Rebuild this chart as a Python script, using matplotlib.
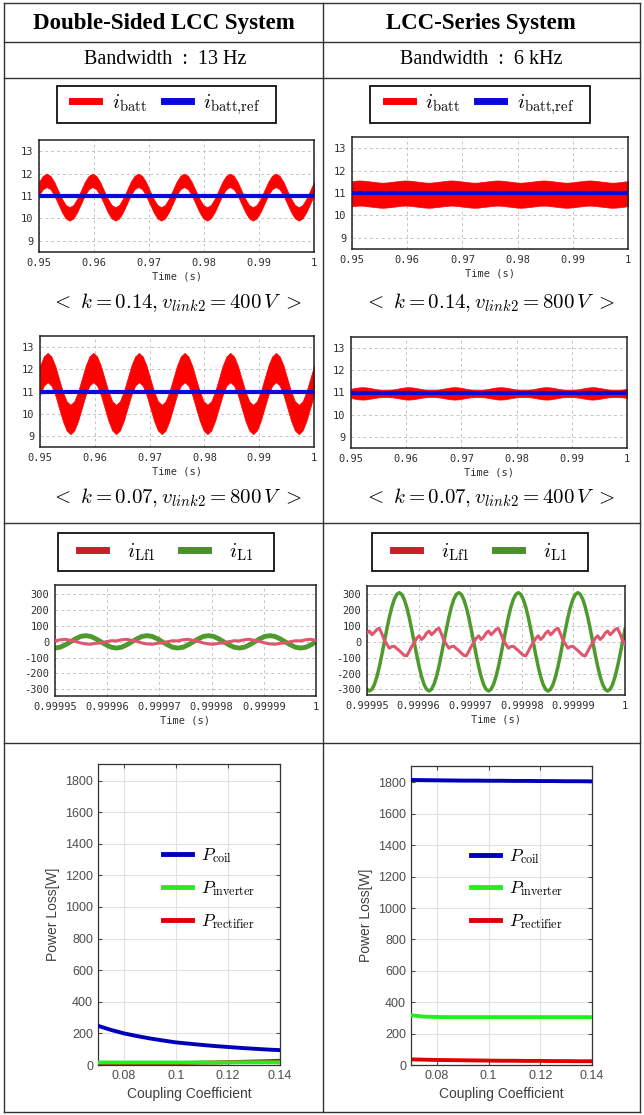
import numpy as np
import matplotlib
matplotlib.use('Agg')
import matplotlib.pyplot as plt
from matplotlib.lines import Line2D
from matplotlib.patches import Rectangle

plt.rcParams['mathtext.fontset'] = 'cm'
plt.rcParams['axes.unicode_minus'] = False

W, H = 644, 1115

#---    Battery current (centre of the rippled band, 0.95 s .. 1 s)
batt_l1_mid = [
    11.33, 11.60,
    11.70, 11.60, 11.33, 10.95, 10.58, 10.30, 10.20, 10.30, 10.58, 10.95, 11.33, 11.60,
    11.70, 11.60, 11.33, 10.95, 10.58, 10.30, 10.20, 10.30, 10.58, 10.95, 11.33, 11.60,
    11.70, 11.60, 11.33, 10.95, 10.58, 10.30, 10.20, 10.30, 10.58, 10.95, 11.33, 11.60,
    11.70, 11.60, 11.33, 10.95, 10.58, 10.30, 10.20, 10.30, 10.58, 10.95, 11.33, 11.60,
    11.70, 11.60, 11.33, 10.95, 10.58, 10.30, 10.20, 10.30, 10.58, 10.95, 11.33, 11.60,
    11.70, 11.60, 11.33, 10.95, 10.58, 10.30, 10.20, 10.30, 10.58, 10.95, 11.33]
batt_l1_ripple = 0.30

batt_l2_mid = [
    11.50, 11.92,
    12.08, 11.92, 11.50, 10.91, 10.33, 9.90, 9.74, 9.90, 10.33, 10.91, 11.50, 11.92,
    12.08, 11.92, 11.50, 10.91, 10.33, 9.90, 9.74, 9.90, 10.33, 10.91, 11.50, 11.92,
    12.08, 11.92, 11.50, 10.91, 10.33, 9.90, 9.74, 9.90, 10.33, 10.91, 11.50, 11.92,
    12.08, 11.92, 11.50, 10.91, 10.33, 9.90, 9.74, 9.90, 10.33, 10.91, 11.50, 11.92,
    12.08, 11.92, 11.50, 10.91, 10.33, 9.90, 9.74, 9.90, 10.33, 10.91, 11.50, 11.92,
    12.08, 11.92, 11.50, 10.91, 10.33, 9.90, 9.74, 9.90, 10.33, 10.91, 11.50]
batt_l2_ripple = 0.66

batt_r1_mid = [
    10.97, 10.99,
    11.00, 10.99, 10.97, 10.95, 10.93, 10.91, 10.90, 10.91, 10.93, 10.95, 10.97, 10.99,
    11.00, 10.99, 10.97, 10.95, 10.93, 10.91, 10.90, 10.91, 10.93, 10.95, 10.97, 10.99,
    11.00, 10.99, 10.97, 10.95, 10.93, 10.91, 10.90, 10.91, 10.93, 10.95, 10.97, 10.99,
    11.00, 10.99, 10.97, 10.95, 10.93, 10.91, 10.90, 10.91, 10.93, 10.95, 10.97, 10.99,
    11.00, 10.99, 10.97, 10.95, 10.93, 10.91, 10.90, 10.91, 10.93, 10.95, 10.97, 10.99,
    11.00, 10.99, 10.97, 10.95, 10.93, 10.91, 10.90, 10.91, 10.93, 10.95, 10.97]
batt_r1_ripple = 0.56

batt_r2_mid = 10.96
batt_r2_ripple = [
    0.21, 0.24, 0.27,
    0.28, 0.27, 0.24, 0.21, 0.18, 0.17, 0.17, 0.17, 0.18, 0.21, 0.24, 0.27,
    0.28, 0.27, 0.24, 0.21, 0.18, 0.17, 0.17, 0.17, 0.18, 0.21, 0.24, 0.27,
    0.28, 0.27, 0.24, 0.21, 0.18, 0.17, 0.17, 0.17, 0.18, 0.21, 0.24, 0.27,
    0.28, 0.27, 0.24, 0.21, 0.18, 0.17, 0.17, 0.17, 0.18, 0.21, 0.24, 0.27,
    0.28, 0.27, 0.24, 0.21, 0.18, 0.17, 0.17, 0.17, 0.18, 0.21, 0.24, 0.27,
    0.28, 0.27, 0.24, 0.21, 0.18, 0.17, 0.17, 0.17, 0.18, 0.21]

batt_ref = 11.0

#---    Inductor currents (0.99995 s .. 1 s)
il1_left = [
    -40, -35, -20, -1, 18, 33, 38, 33, 18, -1, -20, -35,
    -40, -35, -20, -1, 18, 33, 38, 33, 18, -1, -20, -35,
    -40, -35, -20, -1, 18, 33, 38, 33, 18, -1, -20, -35,
    -40, -35, -20, -1, 18, 33, 38, 33, 18, -1, -20, -35,
    -40, -35, -20, -1]
ilf1_left = [
    5, 12, 15, 8, 2, -8, -14, -16, -10, -8, 0, 6,
    5, 12, 15, 8, 2, -8, -14, -16, -10, -8, 0, 6,
    5, 12, 15, 8, 2, -8, -14, -16, -10, -8, 0, 6,
    5, 12, 15, 8, 2, -8, -14, -16, -10, -8, 0, 6,
    5, 12, 15, 8]
il1_right = [
    -299,
    -310, -299, -268, -219, -155, -80, 0, 80, 155, 219, 268, 299,
    310, 299, 268, 219, 155, 80, 0, -80, -155, -219, -268, -299,
    -310, -299, -268, -219, -155, -80, 0, 80, 155, 219, 268, 299,
    310, 299, 268, 219, 155, 80, 0, -80, -155, -219, -268, -299,
    -310, -299, -268, -219, -155, -80, 0, 80, 155, 219, 268, 299,
    310, 299, 268, 219, 155, 80, 0, -80, -155, -219, -268, -299,
    -310, -299, -268, -219, -155, -80, 0, 80, 155, 219, 268, 299,
    310, 299, 268, 219, 155, 80, 0, -80, -155, -219, -268, -299,
    -310, -299, -268, -219, -155, -80, 0, 80]
ilf1_right = [
    55, 68, 45, 60, 78,
    85, 50, 10, -15, -40, -30, -28, -42, -55, -70, -85, -88,
    -60, -30, -5, 22, 38, 15, 30, 55, 68, 45, 60, 78,
    85, 50, 10, -15, -40, -30, -28, -42, -55, -70, -85, -88,
    -60, -30, -5, 22, 38, 15, 30, 55, 68, 45, 60, 78,
    85, 50, 10, -15, -40, -30, -28, -42, -55, -70, -85, -88,
    -60, -30, -5, 22, 38, 15, 30, 55, 68, 45, 60, 78,
    85, 50, 10, -15, -40, -30, -28, -42, -55, -70, -85, -88,
    -60, -30, -5, 22, 38, 15, 30, 55, 68, 45, 60, 78,
    85, 50, 10, -15]

#---    Power loss vs coupling coefficient
k_coef = [0.07, 0.075, 0.08, 0.085, 0.09, 0.095, 0.10, 0.105, 0.11, 0.115, 0.12, 0.125, 0.13, 0.135, 0.14]
p_coil_left = [248, 222, 200, 183, 168, 155, 143, 135, 127, 120, 114, 108, 103, 98, 94]
p_inv_left = [16, 16, 16, 16, 16, 16, 16, 16, 16, 16, 16, 17, 17, 17, 17]
p_rect_left = [6, 7, 8, 9, 10, 11, 12, 13, 15, 16, 18, 20, 22, 24, 27]
p_coil_right = [1816, 1815, 1814, 1813, 1812, 1812, 1811, 1811, 1810, 1810, 1809, 1809, 1808, 1808, 1807]
p_inv_right = [317, 308, 306, 305, 305, 305, 305, 305, 305, 305, 305, 305, 305, 305, 305]
p_rect_right = [36, 34, 32, 31, 30, 29, 28, 27, 27, 26, 26, 25, 25, 24, 24]

batt_yticks = [9, 10, 11, 12, 13]
batt_xticks = [0.95, 0.96, 0.97, 0.98, 0.99, 1.0]
batt_xlabels = ['0.95', '0.96', '0.97', '0.98', '0.99', '1']
cur_yticks = [-300, -200, -100, 0, 100, 200, 300]
cur_xticks = [0.99995, 0.99996, 0.99997, 0.99998, 0.99999, 1.0]
cur_xlabels = ['0.99995', '0.99996', '0.99997', '0.99998', '0.99999', '1']
ploss_yticks = [0, 200, 400, 600, 800, 1000, 1200, 1400, 1600, 1800]
k_ticks = [0.08, 0.10, 0.12, 0.14]
k_labels = ['0.08', '0.1', '0.12', '0.14']

t_batt = np.linspace(0.95, 1.0, len(batt_l1_mid))
t_cur_l = 0.99995 + np.linspace(0, 50, len(il1_left)) * 1e-6
t_cur_r = 0.99995 + np.linspace(0, 50, len(il1_right)) * 1e-6

RED = '#ff0000'
BLUE = '#0a0ad8'
PINK = '#e0566e'
GREEN = '#4f9a2c'

fig = plt.figure(figsize=(W / 100, H / 100), dpi=100)


def px(x0, y0, x1, y1):
    return [x0 / W, 1 - y1 / H, (x1 - x0) / W, (y1 - y0) / H]


#---    Table background
bg = fig.add_axes([0, 0, 1, 1])
bg.set_xlim(0, W)
bg.set_ylim(H, 0)
bg.axis('off')
for yy in [3, 42, 78, 523, 743, 1112]:
    bg.plot([4, 640], [yy, yy], color='#333333', lw=1.0)
for xx in [4, 323, 640]:
    bg.plot([xx, xx], [3, 1112], color='#333333', lw=1.0)

bg.text(164, 23, 'Double-Sided LCC System', ha='center', va='center',
        fontsize=16.5, fontweight='bold', family='Liberation Serif')
bg.text(481, 23, 'LCC-Series System', ha='center', va='center',
        fontsize=16.5, fontweight='bold', family='Liberation Serif')
bg.text(165, 60, 'Bandwidth  :  13 Hz', ha='center', va='center',
        fontsize=14.5, family='Liberation Serif')
bg.text(481, 60, 'Bandwidth  :  6 kHz', ha='center', va='center',
        fontsize=14.5, family='Liberation Serif')

bg.text(176, 303, r'$<\ k=0.14, v_{link2}=400\,V\ >$', ha='center', va='center', fontsize=15)
bg.text(176, 498, r'$<\ k=0.07, v_{link2}=800\,V\ >$', ha='center', va='center', fontsize=15)
bg.text(489, 303, r'$<\ k=0.14, v_{link2}=800\,V\ >$', ha='center', va='center', fontsize=15)
bg.text(489, 498, r'$<\ k=0.07, v_{link2}=400\,V\ >$', ha='center', va='center', fontsize=15)


def legend_box(x0, y0, x1, y1, handles, labels, ncol, fs, **kw):
    bg.add_patch(Rectangle((x0, y0), x1 - x0, y1 - y0, fill=False, ec='#111111', lw=1.3))
    cx, cy = (x0 + x1) / 2, (y0 + y1) / 2
    fig.legend(handles, labels, loc='center', bbox_to_anchor=(cx / W, 1 - cy / H),
               ncol=ncol, frameon=False, fontsize=fs, **kw)


batt_h = [Line2D([], [], color=RED, lw=5), Line2D([], [], color=BLUE, lw=5)]
batt_l = [r'$i_{\mathrm{batt}}$', r'$i_{\mathrm{batt{,}ref}}$']
legend_box(57, 86, 276, 123, batt_h, batt_l, 2, 15, handlelength=1.3, columnspacing=0.8, handletextpad=0.6)
legend_box(370, 86, 590, 123, batt_h, batt_l, 2, 15, handlelength=1.3, columnspacing=0.8, handletextpad=0.6)

cur_h = [Line2D([], [], color='#c8202a', lw=5), Line2D([], [], color='#4a8f2c', lw=5)]
cur_l = [r'$i_{\mathrm{Lf1}}$', r'$i_{\mathrm{L1}}$']
legend_box(58, 533, 274, 571, cur_h, cur_l, 2, 15, handlelength=1.3, columnspacing=1.2, handletextpad=1.0)
legend_box(372, 533, 588, 571, cur_h, cur_l, 2, 15, handlelength=1.3, columnspacing=1.2, handletextpad=1.0)

pw_h = [Line2D([], [], color='#0000b8', lw=3.5), Line2D([], [], color='#22ee22', lw=3.5),
        Line2D([], [], color='#e00000', lw=3.5)]
pw_l = [r'$P_{\mathrm{coil}}$', r'$P_{\mathrm{inverter}}$', r'$P_{\mathrm{rectifier}}$']
legend_box(153, 838, 265, 939, pw_h, pw_l, 1, 12.5, handlelength=1.7, labelspacing=0.8, handletextpad=0.5)
legend_box(461, 839, 573, 939, pw_h, pw_l, 1, 12.5, handlelength=1.7, labelspacing=0.8, handletextpad=0.5)


def psim_axes(box, ylim, yticks, xlim, xticks, xlabels):
    ax = fig.add_axes(px(*box))
    ax.set_xlim(xlim)
    ax.set_ylim(ylim)
    ax.set_xticks(xticks)
    ax.set_xticklabels(xlabels)
    ax.set_yticks(yticks)
    ax.grid(True, color='#c4c4c4', linestyle=(0, (3, 3)), lw=0.7)
    ax.tick_params(labelsize=7.5, colors='#303030', length=0, pad=4)
    for lab in ax.get_xticklabels() + ax.get_yticklabels():
        lab.set_family('DejaVu Sans Mono')
    for sp in ax.spines.values():
        sp.set_color('#222222')
        sp.set_linewidth(1.1)
    ax.set_xlabel('Time (s)', family='DejaVu Sans Mono', fontsize=7.5, color='#303030', labelpad=3)
    return ax


def batt_plot(box, mid, ripple):
    ax = psim_axes(box, (8.5, 13.5), batt_yticks, (0.95, 1.0), batt_xticks, batt_xlabels)
    mid = np.asarray(mid, dtype=float) * np.ones_like(t_batt)
    ripple = np.asarray(ripple, dtype=float)
    ax.fill_between(t_batt, mid - ripple, mid + ripple, color=RED, lw=0.5, zorder=2)
    ax.axhline(batt_ref, color=BLUE, lw=3, zorder=3)
    return ax


batt_plot((39, 140, 314, 252), batt_l1_mid, batt_l1_ripple)
batt_plot((352, 137, 628, 249), batt_r1_mid, batt_r1_ripple)
batt_plot((40, 336, 314, 447), batt_l2_mid, batt_l2_ripple)
batt_plot((351, 337, 627, 448), batt_r2_mid, batt_r2_ripple)

axc = psim_axes((55, 585, 316, 696), (-342, 357), cur_yticks, (0.99995, 1.0), cur_xticks, cur_xlabels)
axc.plot(t_cur_l, ilf1_left, color=PINK, lw=2.2, zorder=3)
axc.plot(t_cur_l, il1_left, color=GREEN, lw=3.5, zorder=2)

axc = psim_axes((367, 586, 625, 695), (-335, 352), cur_yticks, (0.99995, 1.0), cur_xticks, cur_xlabels)
axc.plot(t_cur_r, ilf1_right, color=PINK, lw=2.2, zorder=3)
axc.plot(t_cur_r, il1_right, color=GREEN, lw=2.5, zorder=2)


def matlab_axes(box, coil, inv, rect):
    ax = fig.add_axes(px(*box))
    ax.plot(k_coef, coil, color='#0000b8', lw=2.8, zorder=3)
    ax.plot(k_coef, rect, color='#e00000', lw=2.8, zorder=2)
    ax.plot(k_coef, inv, color='#22ee22', lw=2.8, zorder=3)
    ax.set_xlim(0.07, 0.14)
    ax.set_ylim(0, 1905)
    ax.set_xticks(k_ticks)
    ax.set_xticklabels(k_labels)
    ax.set_yticks(ploss_yticks)
    ax.grid(True, color='#e2e2e2', lw=0.8)
    ax.tick_params(direction='in', length=3, labelsize=9, colors='#4d4d4d', top=True, right=True)
    for lab in ax.get_xticklabels() + ax.get_yticklabels():
        lab.set_family('Liberation Sans')
    for sp in ax.spines.values():
        sp.set_color('#333333')
        sp.set_linewidth(0.9)
    ax.set_ylabel('Power Loss[W]', family='Liberation Sans', fontsize=10, color='#404040', labelpad=4)
    ax.set_xlabel('Coupling Coefficient', family='Liberation Sans', fontsize=10, color='#404040', labelpad=4)
    return ax


matlab_axes((98, 764, 280, 1065), p_coil_left, p_inv_left, p_rect_left)
matlab_axes((411, 766, 592, 1065), p_coil_right, p_inv_right, p_rect_right)

fig.savefig('out.png', dpi=100)
